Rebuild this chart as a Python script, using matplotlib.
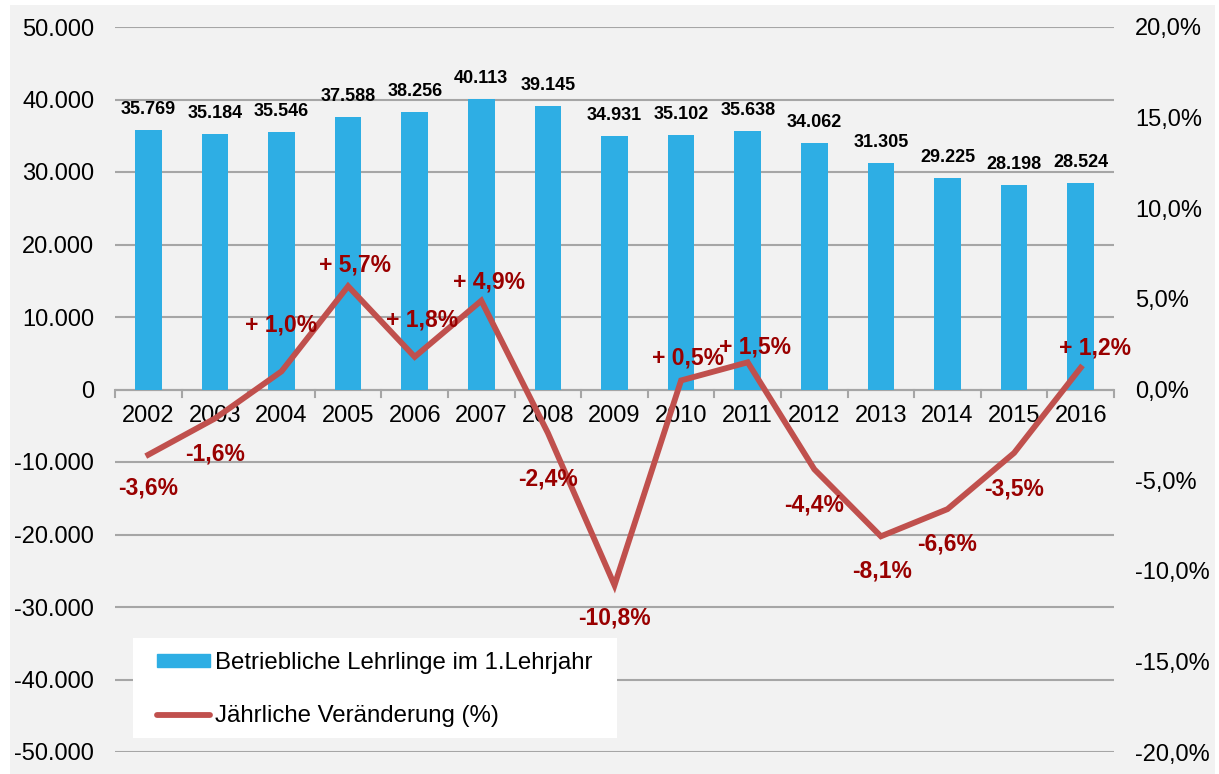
import matplotlib.pyplot as plt
from matplotlib.patches import Rectangle
from matplotlib.lines import Line2D
from matplotlib.ticker import FuncFormatter

plt.rcParams['font.family'] = ['Liberation Sans', 'DejaVu Sans']

years = ['2002', '2003', '2004', '2005', '2006', '2007', '2008', '2009',
         '2010', '2011', '2012', '2013', '2014', '2015', '2016']
lehrlinge = [35769, 35184, 35546, 37588, 38256, 40113, 39145, 34931,
             35102, 35638, 34062, 31305, 29225, 28198, 28524]
veraenderung = [-3.6, -1.6, 1.0, 5.7, 1.8, 4.9, -2.4, -10.8,
                0.5, 1.5, -4.4, -8.1, -6.6, -3.5, 1.2]
# label offsets in pixels (dx, dy) relative to the line point
pct_offsets = [(0, -33), (0, -35), (0, 46), (7, 21), (7, 37), (8, 19), (0, -46),
               (0, -33), (7, 22), (7, 15), (0, -36), (1, -35), (0, -35), (0, -36), (14, 20)]

BAR_COLOR = '#2EAEE4'
LINE_COLOR = '#C0504D'
LABEL_RED = '#990000'
GRID = '#A6A6A6'

fig = plt.figure(figsize=(12.19, 7.74), dpi=100)
fig.patch.set_facecolor('white')
fig.patches.append(Rectangle((10 / 1219, 0), 1205 / 1219, 769 / 774,
                             transform=fig.transFigure, facecolor='#F2F2F2',
                             edgecolor='none', zorder=-10))

ax = fig.add_axes([115 / 1219, 22 / 774, 999 / 1219, 725 / 774])
ax.set_facecolor('none')
x = list(range(len(years)))

ax.bar(x, lehrlinge, width=0.4, color=BAR_COLOR, zorder=2)
ax.set_xlim(-0.5, len(years) - 0.5)
ax.set_ylim(-50000, 50000)
ax.set_yticks(range(-50000, 50001, 10000))
ax.yaxis.set_major_formatter(FuncFormatter(lambda v, p: f'{int(v):,}'.replace(',', '.')))
ax.yaxis.grid(True, color=GRID, linewidth=1.5, zorder=0)
ax.set_axisbelow(True)
for s in ['top', 'right', 'left', 'bottom']:
    ax.spines[s].set_visible(False)
ax.tick_params(axis='y', length=0, labelsize=17, pad=15)
ax.set_xticks([])

# category axis along y = 0
ax.axhline(0, color=GRID, linewidth=1.5, zorder=1)
for b in range(len(years) + 1):
    ax.plot([b - 0.5, b - 0.5], [0, -1000], color=GRID, linewidth=1.5,
            zorder=1, clip_on=False)
for i, yr in enumerate(years):
    ax.text(i, -2200, yr, ha='center', va='top', fontsize=17, zorder=3)

for i, v in enumerate(lehrlinge):
    ax.annotate(f'{v:,}'.replace(',', '.'), (i, v), xytext=(0, 12),
                textcoords='offset pixels', ha='center', va='bottom',
                fontsize=13, fontweight='bold', zorder=5)

ax2 = ax.twinx()
ax2.set_ylim(-20, 20)
ax2.set_yticks(range(-20, 21, 5))
ax2.yaxis.set_major_formatter(FuncFormatter(lambda v, p: f'{v:.1f}%'.replace('.', ',')))
ax2.tick_params(axis='y', length=0, labelsize=17, pad=15)
for s in ['top', 'right', 'left', 'bottom']:
    ax2.spines[s].set_visible(False)
ax2.plot(x, veraenderung, color=LINE_COLOR, linewidth=4.2, zorder=4,
         solid_joinstyle='miter')

for i, v in enumerate(veraenderung):
    txt = (f'+ {v:.1f}%' if v > 0 else f'{v:.1f}%').replace('.', ',')
    dx, dy = pct_offsets[i]
    ax2.annotate(txt, (i, v), xytext=(dx, dy), textcoords='offset pixels',
                 ha='center', va='center', fontsize=16.5, fontweight='bold',
                 color=LABEL_RED, zorder=6)

# legend: white box drawn separately, entries without frame
ax2.add_patch(Rectangle((133 / 1219, 1 - 738 / 774), 484 / 1219, 100 / 774,
                        transform=fig.transFigure, facecolor='white',
                        edgecolor='none', zorder=7, clip_on=False))
handles = [Rectangle((0, 0), 1, 1, color=BAR_COLOR),
           Line2D([0], [0], color=LINE_COLOR, linewidth=4.2, solid_capstyle='round')]
leg = ax2.legend(handles, ['Betriebliche Lehrlinge im 1.Lehrjahr', 'Jährliche Veränderung (%)'],
                 loc='upper left', bbox_to_anchor=(157 / 1219, 1 - 652 / 774),
                 bbox_transform=fig.transFigure, fontsize=17.3, frameon=False,
                 handlelength=2.2, handleheight=0.45, handletextpad=0.2,
                 labelspacing=1.3, borderpad=0, borderaxespad=0)
leg.set_zorder(9)

fig.savefig('out.png', dpi=100)
